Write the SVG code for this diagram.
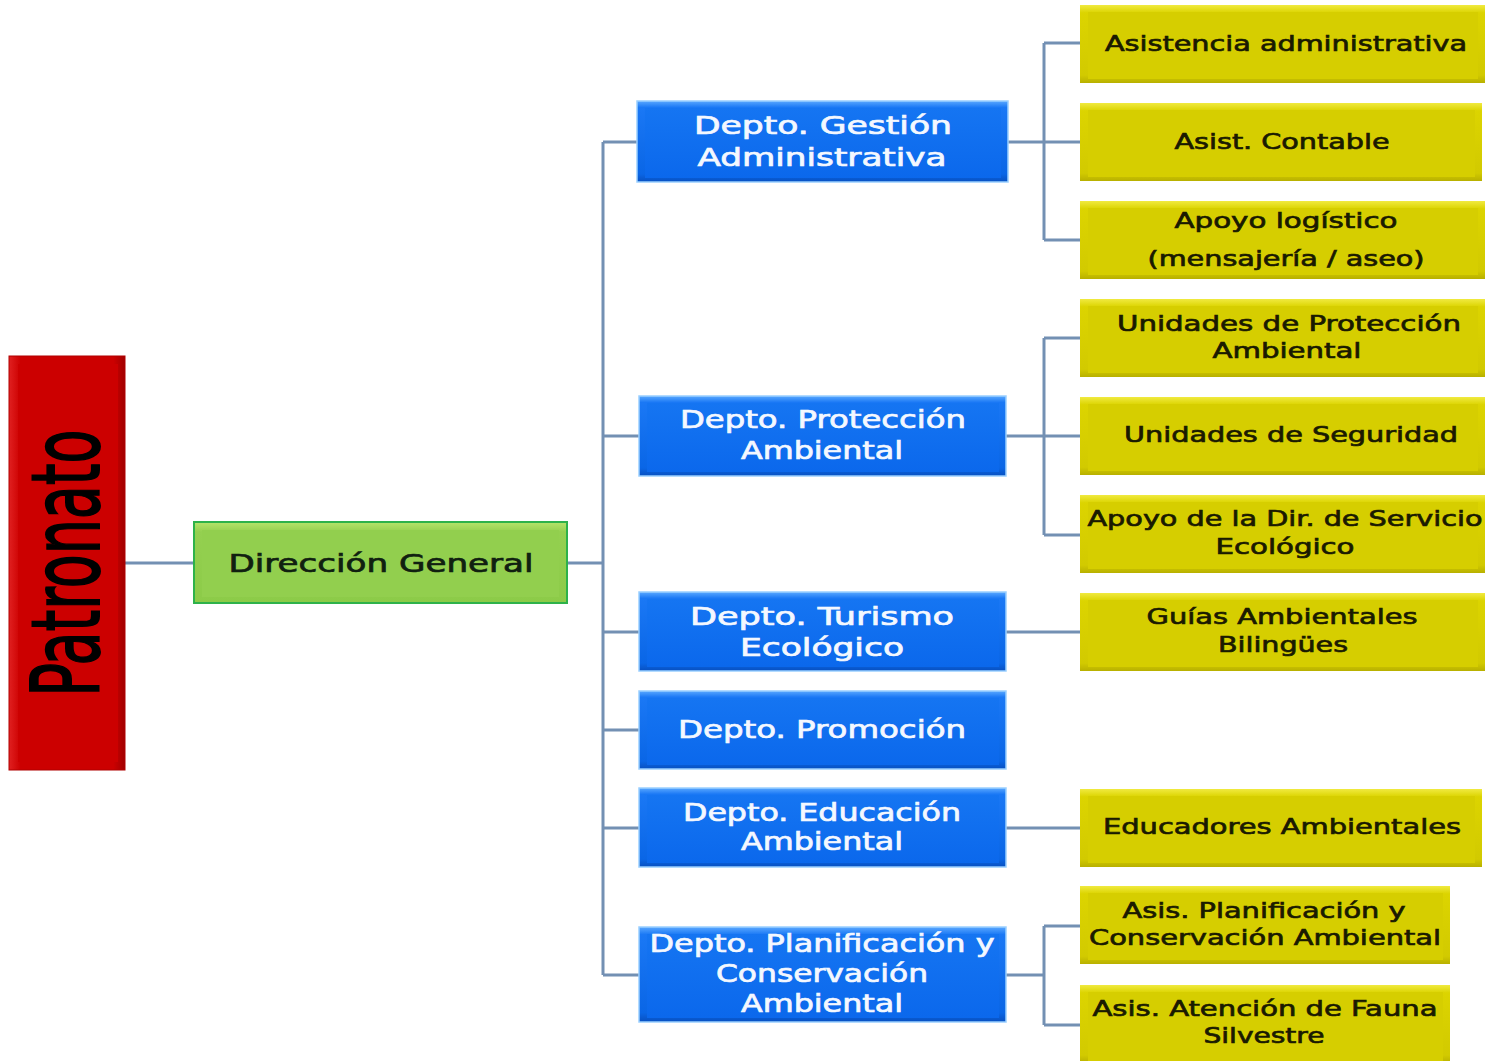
<svg xmlns="http://www.w3.org/2000/svg" width="1486" height="1061" viewBox="0 0 1486 1061">
<style>
.t{font-family:"DejaVu Sans","Verdana",sans-serif;text-anchor:middle;stroke-width:0.7px;}
.bt{fill:#f4f8ff;stroke:#f4f8ff;font-size:24px;}
.yt{fill:#1a1a00;stroke:#1a1a00;font-size:22px;}
.gt{fill:#102010;stroke:#102010;font-size:25px;}
.conn path{fill:none;stroke:#7390b3;stroke-width:3;}
</style>
<defs>
<linearGradient id="gBlue" x1="0" y1="0" x2="0" y2="1">
<stop offset="0" stop-color="#5aa8ff"/><stop offset="0.08" stop-color="#1a78f5"/><stop offset="0.9" stop-color="#0a66e6"/><stop offset="1" stop-color="#0850c0"/>
</linearGradient>
<linearGradient id="gBlueIn" x1="0" y1="0" x2="0" y2="1">
<stop offset="0" stop-color="#1575f2"/><stop offset="1" stop-color="#0b68ec"/>
</linearGradient>
<linearGradient id="gYel" x1="0" y1="0" x2="0" y2="1">
<stop offset="0" stop-color="#f0ea40"/><stop offset="0.1" stop-color="#dcd400"/><stop offset="0.9" stop-color="#d2ca00"/><stop offset="1" stop-color="#b8b000"/>
</linearGradient>
<linearGradient id="gGreen" x1="0" y1="0" x2="0" y2="1">
<stop offset="0" stop-color="#b6e46a"/><stop offset="0.12" stop-color="#94d050"/><stop offset="1" stop-color="#8ccb48"/>
</linearGradient>
<linearGradient id="gRed" x1="0" y1="0" x2="1" y2="0">
<stop offset="0" stop-color="#e02020"/><stop offset="0.1" stop-color="#cc0000"/><stop offset="0.9" stop-color="#cc0000"/><stop offset="1" stop-color="#a00000"/>
</linearGradient>
</defs>
<rect width="1486" height="1061" fill="#ffffff"/>

<g class="conn" id="connectors">
<path d="M125 563 H194"/>
<path d="M567 563 H603"/>
<path d="M603 142 V975"/>
<path d="M603 142 H637"/>
<path d="M603 436 H639"/>
<path d="M603 632 H639"/>
<path d="M603 730 H639"/>
<path d="M603 828 H639"/>
<path d="M603 975 H639"/>
<path d="M1008 142 H1044"/>
<path d="M1044 43 V240"/>
<path d="M1044 43 H1080"/>
<path d="M1044 142 H1080"/>
<path d="M1044 240 H1080"/>
<path d="M1006 436 H1044"/>
<path d="M1044 338 V535"/>
<path d="M1044 338 H1080"/>
<path d="M1044 436 H1080"/>
<path d="M1044 535 H1080"/>
<path d="M1006 632 H1080"/>
<path d="M1006 828 H1080"/>
<path d="M1006 975 H1044"/>
<path d="M1044 926 V1025"/>
<path d="M1044 926 H1080"/>
<path d="M1044 1025 H1080"/>
</g>

<g id="patronato">
<rect x="9" y="356" width="116" height="414" fill="url(#gRed)" stroke="#b00000" stroke-width="1"/>
<rect x="18" y="364" width="100" height="398" fill="#cc0000"/>
<text transform="translate(99,563) rotate(-90)" font-family="DejaVu Sans, sans-serif" text-anchor="middle" font-size="95" fill="#000000" stroke="#000000" stroke-width="2" textLength="267" lengthAdjust="spacingAndGlyphs">Patronato</text>
</g>

<g id="direccion-general">
<rect x="194" y="522" width="373" height="81" fill="url(#gGreen)" stroke="#2eb24a" stroke-width="2"/>
<rect x="202" y="530" width="357" height="67" fill="#92cf4e"/>
<text class="t gt" x="381" y="572" textLength="305" lengthAdjust="spacingAndGlyphs">Dirección General</text>
</g>

<g id="depto-gestion">
<rect x="637" y="101" width="371" height="81" fill="url(#gBlue)" stroke="#9ad0ff" stroke-width="1.5"/>
<rect x="645" y="108" width="356" height="70" fill="url(#gBlueIn)"/>
<text class="t bt" x="823" y="134" textLength="258" lengthAdjust="spacingAndGlyphs">Depto. Gestión</text>
<text class="t bt" x="822" y="166" textLength="249" lengthAdjust="spacingAndGlyphs">Administrativa</text>
</g>

<g id="depto-proteccion">
<rect x="639" y="396" width="367" height="80" fill="url(#gBlue)" stroke="#9ad0ff" stroke-width="1.5"/>
<rect x="647" y="403" width="352" height="69" fill="url(#gBlueIn)"/>
<text class="t bt" x="823" y="428" textLength="286" lengthAdjust="spacingAndGlyphs">Depto. Protección</text>
<text class="t bt" x="822" y="459" textLength="162" lengthAdjust="spacingAndGlyphs">Ambiental</text>
</g>

<g id="depto-turismo">
<rect x="639" y="592" width="367" height="79" fill="url(#gBlue)" stroke="#9ad0ff" stroke-width="1.5"/>
<rect x="647" y="599" width="352" height="68" fill="url(#gBlueIn)"/>
<text class="t bt" x="822" y="625" textLength="264" lengthAdjust="spacingAndGlyphs">Depto. Turismo</text>
<text class="t bt" x="822" y="656" textLength="164" lengthAdjust="spacingAndGlyphs">Ecológico</text>
</g>

<g id="depto-promocion">
<rect x="639" y="691" width="367" height="78" fill="url(#gBlue)" stroke="#9ad0ff" stroke-width="1.5"/>
<rect x="647" y="698" width="352" height="67" fill="url(#gBlueIn)"/>
<text class="t bt" x="822" y="738" textLength="288" lengthAdjust="spacingAndGlyphs">Depto. Promoción</text>
</g>

<g id="depto-educacion">
<rect x="639" y="788" width="367" height="79" fill="url(#gBlue)" stroke="#9ad0ff" stroke-width="1.5"/>
<rect x="647" y="795" width="352" height="68" fill="url(#gBlueIn)"/>
<text class="t bt" x="822" y="821" textLength="278" lengthAdjust="spacingAndGlyphs">Depto. Educación</text>
<text class="t bt" x="822" y="850" textLength="162" lengthAdjust="spacingAndGlyphs">Ambiental</text>
</g>

<g id="depto-planificacion">
<rect x="639" y="927" width="367" height="95" fill="url(#gBlue)" stroke="#9ad0ff" stroke-width="1.5"/>
<rect x="647" y="934" width="352" height="84" fill="url(#gBlueIn)"/>
<text class="t bt" x="822" y="952" textLength="345" lengthAdjust="spacingAndGlyphs">Depto. Planificación y</text>
<text class="t bt" x="822" y="982" textLength="212" lengthAdjust="spacingAndGlyphs">Conservación</text>
<text class="t bt" x="822" y="1012" textLength="162" lengthAdjust="spacingAndGlyphs">Ambiental</text>
</g>

<g id="asistencia-administrativa">
<rect x="1080" y="5" width="405" height="78" fill="url(#gYel)"/>
<rect x="1088" y="12" width="390" height="67" fill="#d6ce00"/>
<text class="t yt" x="1286" y="51" textLength="362" lengthAdjust="spacingAndGlyphs">Asistencia administrativa</text>
</g>

<g id="asist-contable">
<rect x="1080" y="103" width="402" height="78" fill="url(#gYel)"/>
<rect x="1088" y="110" width="387" height="67" fill="#d6ce00"/>
<text class="t yt" x="1282" y="149" textLength="215" lengthAdjust="spacingAndGlyphs">Asist. Contable</text>
</g>

<g id="apoyo-logistico">
<rect x="1080" y="201" width="405" height="78" fill="url(#gYel)"/>
<rect x="1088" y="208" width="390" height="67" fill="#d6ce00"/>
<text class="t yt" x="1286" y="228" textLength="223" lengthAdjust="spacingAndGlyphs">Apoyo logístico</text>
<text class="t yt" x="1286" y="266" textLength="277" lengthAdjust="spacingAndGlyphs">(mensajería / aseo)</text>
</g>

<g id="unidades-proteccion">
<rect x="1080" y="299" width="405" height="78" fill="url(#gYel)"/>
<rect x="1088" y="306" width="390" height="67" fill="#d6ce00"/>
<text class="t yt" x="1289" y="331" textLength="344" lengthAdjust="spacingAndGlyphs">Unidades de Protección</text>
<text class="t yt" x="1287" y="358" textLength="149" lengthAdjust="spacingAndGlyphs">Ambiental</text>
</g>

<g id="unidades-seguridad">
<rect x="1080" y="397" width="405" height="78" fill="url(#gYel)"/>
<rect x="1088" y="404" width="390" height="67" fill="#d6ce00"/>
<text class="t yt" x="1291" y="442" textLength="334" lengthAdjust="spacingAndGlyphs">Unidades de Seguridad</text>
</g>

<g id="apoyo-dir-servicio">
<rect x="1080" y="495" width="405" height="78" fill="url(#gYel)"/>
<rect x="1088" y="502" width="390" height="67" fill="#d6ce00"/>
<text class="t yt" x="1285" y="526" textLength="395" lengthAdjust="spacingAndGlyphs">Apoyo de la Dir. de Servicio</text>
<text class="t yt" x="1285" y="554" textLength="139" lengthAdjust="spacingAndGlyphs">Ecológico</text>
</g>

<g id="guias-ambientales">
<rect x="1080" y="593" width="405" height="78" fill="url(#gYel)"/>
<rect x="1088" y="600" width="390" height="67" fill="#d6ce00"/>
<text class="t yt" x="1282" y="624" textLength="271" lengthAdjust="spacingAndGlyphs">Guías Ambientales</text>
<text class="t yt" x="1283" y="652" textLength="130" lengthAdjust="spacingAndGlyphs">Bilingües</text>
</g>

<g id="educadores-ambientales">
<rect x="1080" y="789" width="402" height="78" fill="url(#gYel)"/>
<rect x="1088" y="796" width="387" height="67" fill="#d6ce00"/>
<text class="t yt" x="1282" y="834" textLength="358" lengthAdjust="spacingAndGlyphs">Educadores Ambientales</text>
</g>

<g id="asis-planificacion">
<rect x="1080" y="886" width="370" height="78" fill="url(#gYel)"/>
<rect x="1088" y="893" width="355" height="67" fill="#d6ce00"/>
<text class="t yt" x="1264" y="918" textLength="283" lengthAdjust="spacingAndGlyphs">Asis. Planificación y</text>
<text class="t yt" x="1265" y="945" textLength="352" lengthAdjust="spacingAndGlyphs">Conservación Ambiental</text>
</g>

<g id="asis-fauna">
<rect x="1080" y="985" width="370" height="78" fill="url(#gYel)"/>
<rect x="1088" y="992" width="355" height="69" fill="#d6ce00"/>
<text class="t yt" x="1265" y="1016" textLength="345" lengthAdjust="spacingAndGlyphs">Asis. Atención de Fauna</text>
<text class="t yt" x="1264" y="1043" textLength="121" lengthAdjust="spacingAndGlyphs">Silvestre</text>
</g>
</svg>
